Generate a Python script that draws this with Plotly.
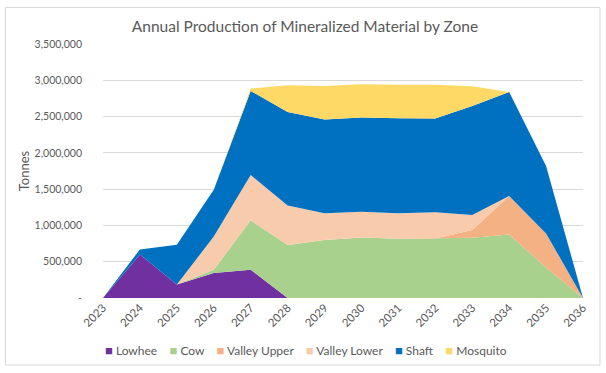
import plotly.graph_objects as go

years = [2023, 2024, 2025, 2026, 2027, 2028, 2029, 2030, 2031, 2032, 2033, 2034, 2035, 2036]
year_labels = [str(y) for y in years]

lowhee = [0, 600000, 185000, 345000, 390000, 0, 0, 0, 0, 0, 0, 0, 0, 0]
cow = [0, 0, 0, 45000, 680000, 730000, 800000, 833000, 815000, 820000, 830000, 875000, 420000, 0]
valley_upper = [0, 0, 0, 0, 0, 0, 0, 0, 0, 0, 108000, 531000, 470000, 0]
valley_lower = [0, 0, 0, 457000, 624000, 543000, 368000, 357000, 353000, 360000, 207000, 0, 0, 0]
shaft = [0, 70000, 550000, 643000, 1159000, 1291000, 1292000, 1297000, 1310000, 1293000, 1502000, 1434000, 928000, 0]
mosquito = [0, 0, 0, 0, 33000, 367000, 460000, 458000, 462000, 467000, 270000, 0, 0, 0]

series_names = ["Lowhee", "Cow", "Valley Upper", "Valley Lower", "Shaft", "Mosquito"]
series_values = [lowhee, cow, valley_upper, valley_lower, shaft, mosquito]
series_colors = ["#7030A0", "#A9D18E", "#F4B183", "#F8CBAD", "#0070C0", "#FFD966"]

y_tick_vals = [0, 500000, 1000000, 1500000, 2000000, 2500000, 3000000, 3500000]
y_tick_labels = ["-", "500,000", "1,000,000", "1,500,000", "2,000,000", "2,500,000", "3,000,000", "3,500,000"]

FONT = "Lato"
TXT = "#595959"

fig = go.Figure()
for name, vals, col in zip(series_names, series_values, series_colors):
    fig.add_trace(go.Scatter(
        x=years, y=vals, name=name, stackgroup="one", mode="lines",
        line=dict(width=0, color=col), fillcolor=col, showlegend=False,
    ))

# legend built as a single line of real text
parts = []
for name, col in zip(series_names, series_colors):
    parts.append(f'<span style="color:{col};font-size:13px">■</span> {name}')
legend_text = "&nbsp;&nbsp;&nbsp;&nbsp;".join(parts)

W, H = 606, 373
L, R, T, B = 103, 23, 44, 75
pw, ph = W - L - R, H - T - B

def px_x(p):
    return (p - L) / pw

def px_y(p):
    return (H - B - p) / ph

fig.add_annotation(
    text=legend_text, x=px_x(306), y=px_y(350), xref="paper", yref="paper",
    xanchor="center", yanchor="middle", showarrow=False,
    font=dict(family=FONT, size=12, color=TXT),
)

fig.add_shape(
    type="rect", xref="paper", yref="paper",
    x0=px_x(5.5), x1=px_x(600), y0=px_y(365), y1=px_y(7.5),
    line=dict(color="#D9D9D9", width=1), fillcolor="rgba(0,0,0,0)", layer="below",
)

fig.update_layout(
    width=W, height=H,
    margin=dict(l=L, r=R, t=T, b=B, pad=0, autoexpand=False),
    paper_bgcolor="white", plot_bgcolor="white",
    title=dict(
        text="Annual Production of Mineralized Material by Zone",
        x=305 / W, xanchor="center", y=1 - 27 / H, yanchor="middle",
        xref="container", yref="container",
        font=dict(family=FONT, size=15.5, color=TXT),
    ),
    font=dict(family=FONT, color=TXT),
    xaxis=dict(
        range=[years[0], years[-1]], tickvals=years, ticktext=year_labels,
        tickangle=-45, showgrid=False, zeroline=False, showline=False,
        tickfont=dict(family=FONT, size=11.5, color=TXT), ticks="",
        automargin=False,
    ),
    yaxis=dict(
        range=[0, 3500000], tickvals=y_tick_vals, ticktext=y_tick_labels,
        showgrid=True, gridcolor="#D9D9D9", gridwidth=1, zeroline=False,
        showline=False, ticks="", ticklabelstandoff=20, automargin=False,
        tickfont=dict(family=FONT, size=10.5, color=TXT),
        title=dict(text="Tonnes", standoff=2, font=dict(family=FONT, size=13, color=TXT)),
    ),
)

fig.write_html(
    "out.html",
    config={"displayModeBar": False},
    post_script="document.body.style.margin='0';",
)
